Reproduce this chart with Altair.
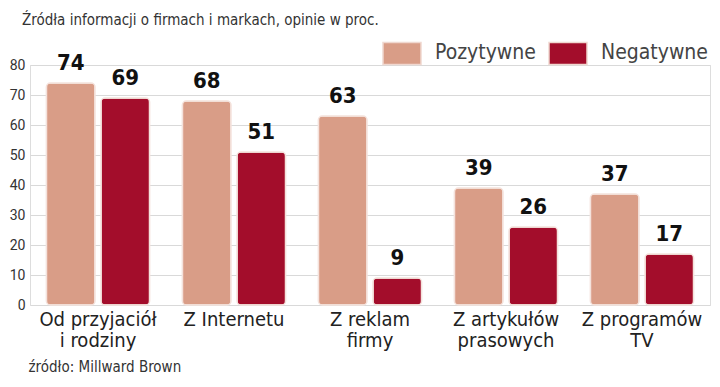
import altair as alt
import pandas as pd

categories = ["Od przyjaciół|i rodziny", "Z Internetu", "Z reklam|firmy", "Z artykułów|prasowych", "Z programów|TV"]
series = ["Pozytywne", "Negatywne"]
pozytywne = [74, 68, 63, 39, 37]
negatywne = [69, 51, 9, 26, 17]
y_ticks = [0, 10, 20, 30, 40, 50, 60, 70, 80]
colors = ["#D99D87", "#A30D2B"]

rows = []
for i, c in enumerate(categories):
    rows.append({"kat": c, "seria": series[0], "val": pozytywne[i]})
    rows.append({"kat": c, "seria": series[1], "val": negatywne[i]})
df = pd.DataFrame(rows)

FONT = "Liberation Sans Narrow, DejaVu Sans Condensed, Roboto, sans-serif"

x = alt.X("kat:N", sort=categories,
          scale=alt.Scale(paddingInner=0, paddingOuter=0),
          axis=alt.Axis(labelAngle=0, labelExpr="split(datum.label, '|')",
                        labelFont=FONT, labelFontSize=20, labelColor="#222222",
                        labelLineHeight=21, labelPadding=4, ticks=False, domain=False,
                        labelBaseline="top",
                        title="źródło: Millward Brown", titleFont=FONT, titleFontSize=15,
                        titleFontWeight="normal", titleColor="#333333",
                        titleAnchor="start", titleAlign="left", titleX=-2, titleY=66,
                        titleBaseline="alphabetic"))
xo = alt.XOffset("seria:N", sort=series,
                 scale=alt.Scale(paddingInner=0.11, paddingOuter=0.3))
y = alt.Y("val:Q", scale=alt.Scale(domain=[0, 80], nice=False),
          axis=alt.Axis(values=y_ticks, title=None, ticks=False, domain=False,
                        labelFont="Roboto", labelFontSize=14, labelColor="#333333",
                        labelPadding=5, labelOverlap=False, labelAlign="right",
                        gridColor="#d9d9d9", gridWidth=1))

base = alt.Chart(df).encode(x=x, xOffset=xo, y=y)

bars = base.mark_bar(cornerRadius=4, stroke="#f4e2dc", strokeWidth=1.5).encode(
    color=alt.Color("seria:N", sort=series,
                    scale=alt.Scale(domain=series, range=colors),
                    legend=alt.Legend(title=None, orient="none", direction="horizontal",
                                      legendX=352, legendY=-32,
                                      symbolType="M-1,-0.58L1,-0.58L1,0.58L-1,0.58Z",
                                      symbolSize=1444, symbolStrokeColor="#f0d8d0",
                                      symbolStrokeWidth=1.5, symbolOpacity=1,
                                      labelFont=FONT, labelFontSize=21, labelColor="#444444",
                                      labelOffset=13, columnPadding=10)),
)

labels = base.mark_text(baseline="bottom", dy=-8, font=FONT, fontSize=22,
                        fontWeight="bold", color="#111111").encode(
    text=alt.Text("val:Q"))

chart = alt.layer(bars, labels).properties(
    width=680, height=240,
    autosize=alt.AutoSizeParams(type="none"),
    padding={"left": 22, "top": 57, "right": 2, "bottom": 70},
    title=alt.TitleParams("Źródła informacji o firmach i markach, opinie w proc.",
                          anchor="start", font=FONT, fontSize=15, fontWeight="normal",
                          color="#333333", dx=-8, offset=5, frame="group"),
).configure_view(fill="#f2f2f2", stroke=None, cornerRadius=14
).configure(background="white")

chart.save("out.html", embed_options={"renderer": "svg", "actions": False})
